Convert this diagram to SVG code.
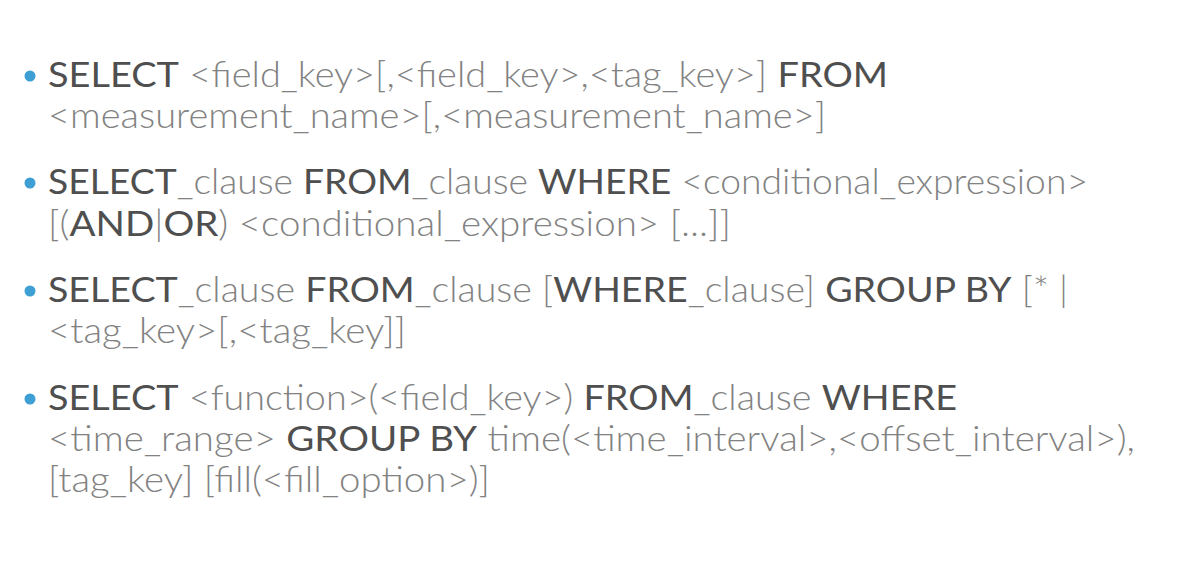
<svg xmlns="http://www.w3.org/2000/svg" width="1188" height="570" viewBox="0 0 1188 570">
<style>
text{font-family:Lato,"Open Sans","Liberation Sans",sans-serif;font-size:35px;}
.k{fill:#4f4f4f;font-weight:400;}
.p{fill:#828282;font-weight:300;}
.b{fill:#3d9fd3;}
</style>
<rect width="1188" height="570" fill="#ffffff"/>
<g id="bullet1">
<circle class="b" cx="30" cy="76" r="5.5"/>
<text x="48" y="87" textLength="840" lengthAdjust="spacingAndGlyphs"><tspan class="k">SELECT</tspan><tspan class="p"> &lt;field_key&gt;[,&lt;field_key&gt;,&lt;tag_key&gt;] </tspan><tspan class="k">FROM</tspan></text>
<text x="48" y="128" textLength="778" lengthAdjust="spacingAndGlyphs"><tspan class="p">&lt;measurement_name&gt;[,&lt;measurement_name&gt;]</tspan></text>
</g>
<g id="bullet2">
<circle class="b" cx="30" cy="183" r="5.5"/>
<text x="48" y="194" textLength="1040" lengthAdjust="spacingAndGlyphs"><tspan class="k">SELECT</tspan><tspan class="p">_clause </tspan><tspan class="k">FROM</tspan><tspan class="p">_clause </tspan><tspan class="k">WHERE</tspan><tspan class="p"> &lt;conditional_expression&gt;</tspan></text>
<text x="48" y="236" textLength="683" lengthAdjust="spacingAndGlyphs"><tspan class="p">[(</tspan><tspan class="k">AND</tspan><tspan class="p">|</tspan><tspan class="k">OR</tspan><tspan class="p">) &lt;conditional_expression&gt; [...]]</tspan></text>
</g>
<g id="bullet3">
<circle class="b" cx="30" cy="291" r="5.5"/>
<text x="48" y="302" textLength="1020" lengthAdjust="spacingAndGlyphs"><tspan class="k">SELECT</tspan><tspan class="p">_clause </tspan><tspan class="k">FROM</tspan><tspan class="p">_clause [</tspan><tspan class="k">WHERE</tspan><tspan class="p">_clause] </tspan><tspan class="k">GROUP BY</tspan><tspan class="p"> [* |</tspan></text>
<text x="48" y="343" textLength="358" lengthAdjust="spacingAndGlyphs"><tspan class="p">&lt;tag_key&gt;[,&lt;tag_key]]</tspan></text>
</g>
<g id="bullet4">
<circle class="b" cx="30" cy="399" r="5.5"/>
<text x="48" y="410" textLength="909" lengthAdjust="spacingAndGlyphs"><tspan class="k">SELECT</tspan><tspan class="p"> &lt;function&gt;(&lt;field_key&gt;) </tspan><tspan class="k">FROM</tspan><tspan class="p">_clause </tspan><tspan class="k">WHERE</tspan></text>
<text x="48" y="451" textLength="1087" lengthAdjust="spacingAndGlyphs"><tspan class="p">&lt;time_range&gt; </tspan><tspan class="k">GROUP BY</tspan><tspan class="p"> time(&lt;time_interval&gt;,&lt;offset_interval&gt;),</tspan></text>
<text x="48" y="492" textLength="442" lengthAdjust="spacingAndGlyphs"><tspan class="p">[tag_key] [fill(&lt;fill_option&gt;)]</tspan></text>
</g>
</svg>
